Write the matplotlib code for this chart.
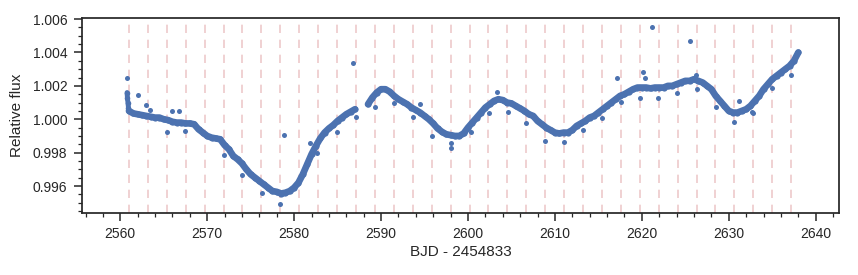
import numpy as np
import matplotlib
matplotlib.use('Agg')
from matplotlib import pyplot as plt
from matplotlib.ticker import MultipleLocator

plt.rcParams['font.family'] = ['Liberation Sans', 'DejaVu Sans']

# light curve, sampled every half day (nan = data gap)
time = np.arange(2561.0, 2638.25, 0.5)
flux = [
    1.0005, 1.00035, 1.0003, 1.00025, 1.0002, 1.00015, 1.0001, 1.0001, 1.0000, 0.99995,
    0.99985, 0.9998, 0.9998, 0.99975, 0.99975, 0.9997, 0.9994, 0.9992, 0.9990, 0.9989,
    0.99885, 0.9988, 0.99845, 0.9982, 0.9978, 0.9976, 0.99735, 0.9970, 0.9967, 0.9965,
    0.9963, 0.9961, 0.9959, 0.9957, 0.99565, 0.99555, 0.9956, 0.9957, 0.9959, 0.9962,
    0.9967, 0.9973, 0.9979, 0.9984, 0.99885, 0.9992, 0.99945, 0.99965, 0.9999, 1.0001,
    1.0003, 1.00045, 1.0006, np.nan, np.nan, 1.0009, 1.0013, 1.0016, 1.0018, 1.0018,
    1.00165, 1.0014, 1.0012, 1.00105, 1.0009, 1.0007, 1.00055, 1.0004, 1.0002, 1.0000,
    0.99975, 0.99945, 0.99925, 0.9991, 0.99905, 0.9990, 0.9990, 0.99915, 0.9995, 0.9998,
    1.0001, 1.0004, 1.0007, 1.0009, 1.0011, 1.0012, 1.00115, 1.0010, 1.00095, 1.0008,
    1.00065, 1.0005, 1.0003, 1.0002, 0.9999, 0.9997, 0.9995, 0.99935, 0.9992, 0.99915,
    0.9992, 0.9992, 0.99935, 0.9996, 0.99975, 0.9999, 1.0001, 1.0002, 1.0004, 1.0006,
    1.0008, 1.0010, 1.0012, 1.0014, 1.0015, 1.00165, 1.0018, 1.0019, 1.0019, 1.0019,
    1.00185, 1.0019, 1.0019, 1.0019, 1.0020, 1.0020, 1.0021, 1.0022, 1.0023, 1.0023,
    1.0024, 1.0023, 1.0022, 1.0020, 1.0018, 1.0014, 1.0011, 1.0008, 1.0005, 1.0004,
    1.0004, 1.0005, 1.0006, 1.0008, 1.0011, 1.0014, 1.0018, 1.0021, 1.0024, 1.0026,
    1.0028, 1.0030, 1.0032, 1.0035, 1.0040,
]

# first points of the quarter (ramp)
head_t = [2560.78, 2560.82, 2560.88, 2560.94]
head_f = [1.0016, 1.0013, 1.0010, 1.0007]

# stray points and dips
odd_t = [2560.77, 2562.04, 2563.0, 2563.45, 2565.95, 2566.8, 2565.4, 2567.5,
         2578.8, 2578.4, 2581.8, 2586.8, 2594.5, 2598.1, 2598.1, 2603.3,
         2617.2, 2620.1, 2620.4, 2621.2, 2625.6, 2626.2, 2631.2, 2632.7, 2630.6,
         2571.9, 2574.0, 2576.3, 2582.6, 2584.9, 2587.1, 2589.3, 2591.5, 2593.7,
         2595.9, 2600.3, 2602.4, 2604.6, 2606.7, 2608.9, 2611.1, 2613.2, 2615.4,
         2617.6, 2619.8, 2621.9, 2624.1, 2626.3, 2628.5, 2632.8, 2635.0, 2637.2]
odd_f = [1.00245, 1.00145, 1.00085, 1.00055, 1.0005, 1.0005, 0.99925, 0.9993,
         0.99905, 0.99492, 0.99859, 1.00338, 1.0009, 0.99826, 0.9986, 1.00165,
         1.0025, 1.00284, 1.00249, 1.00554, 1.0047, 1.00265, 1.0011, 1.00041, 0.99985,
         0.99786, 0.99666, 0.99558, 0.99796, 0.99925, 1.00015, 1.00075, 1.00095, 1.00015,
         0.9990, 0.99925, 1.00035, 1.00045, 0.99976, 0.9987, 0.99865, 0.99935, 1.00005,
         1.00105, 1.0013, 1.0013, 1.00155, 1.0018, 1.00075, 1.00035, 1.00185, 1.00265]

# transit epochs
t0 = 2561.0
period = 2.1766
n_transits = 36

blue = '#4C72B0'
fig = plt.figure(figsize=(8.58, 2.75), dpi=100)
ax = fig.add_axes([0.0956, 0.2265, 0.8824, 0.707])

for k in range(n_transits):
    ax.axvline(t0 + k * period, color='#C44E52', alpha=0.3, lw=1.2,
               ls=(0, (5, 4)), zorder=1)

ax.plot(time, flux, color=blue, lw=4.8, zorder=2, solid_capstyle='round')
ax.plot(head_t, head_f, color=blue, lw=3.5, zorder=2, solid_capstyle='round')
ax.scatter(time, flux, s=20, color=blue, lw=0, zorder=3)
ax.scatter(head_t, head_f, s=16, color=blue, lw=0, zorder=3)
ax.scatter(odd_t, odd_f, s=13, color=blue, lw=0, zorder=3)

ax.set_xlim(2555.6, 2642.7)
ax.set_ylim(0.9944, 1.00605)
ax.xaxis.set_major_locator(MultipleLocator(10))
ax.xaxis.set_minor_locator(MultipleLocator(2))
ax.yaxis.set_major_locator(MultipleLocator(0.002))
ax.yaxis.set_minor_locator(MultipleLocator(0.0005))
ax.yaxis.set_major_formatter(plt.FormatStrFormatter('%.3f'))

ax.tick_params(which='major', direction='out', length=5.5, width=1.1,
               labelsize=10, colors='#262626', pad=5)
ax.tick_params(which='minor', direction='out', length=3, width=0.9, colors='#262626')
for sp in ax.spines.values():
    sp.set_linewidth(1.25)
    sp.set_color('#262626')

ax.set_xlabel('BJD - 2454833', fontsize=11, color='#262626', labelpad=3)
ax.set_ylabel('Relative flux', fontsize=11, color='#262626', labelpad=6)

fig.savefig('out.png', dpi=100)
